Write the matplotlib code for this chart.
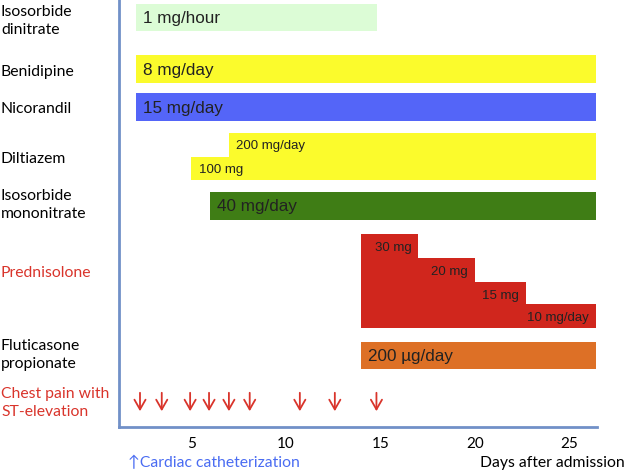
import matplotlib

matplotlib.use("Agg")
import matplotlib.pyplot as plt
from matplotlib.patches import Rectangle

# --- data (days after admission) ---
BAR_DRUGS = ["Isosorbide dinitrate", "Benidipine", "Nicorandil",
             "Isosorbide mononitrate", "Fluticasone propionate"]
BAR_START = [2.1, 2.1, 2.1, 6.0, 14.0]
BAR_END = [14.85, 26.4, 26.4, 26.4, 26.4]
BAR_DOSE = ["1 mg/hour", "8 mg/day", "15 mg/day", "40 mg/day", "200 µg/day"]

DILT_START = [5.0, 7.0]
DILT_END = [7.0, 26.4]
DILT_DOSE = ["100 mg", "200 mg/day"]

PRED_START = [14.0, 17.0, 20.0, 22.7]
PRED_END = [17.0, 20.0, 22.7, 26.4]
PRED_DOSE = ["30 mg", "20 mg", "15 mg", "10 mg/day"]

CHEST_PAIN_DAYS = [2.3, 3.45, 4.95, 5.95, 7.0, 8.1, 10.75, 12.6, 14.8]
CATH_DAY = 1.65
XTICKS = [5, 10, 15, 20, 25]

# --- layout (y in pixel-like rows, top = 0) ---
BAR_ROWS = [(4, 31), (55, 83), (93, 121), (192, 220), (342, 369)]
BAR_COLORS = ["#dcfcd6", "#fbfb2c", "#5465f8", "#3f7d15", "#dd7026"]
DILT_TOPS, DILT_BOTTOM = [157, 133], 180
PRED_TOPS, PRED_BOTTOM = [234, 258, 282, 304], 328
RED = "#d9342b"
AXIS_C = "#7190c8"
LABEL_FONT = ["Lato", "DejaVu Sans"]
BAR_FONT = ["Liberation Sans", "DejaVu Sans"]

fig = plt.figure(figsize=(6.26, 4.74), dpi=100)
ax = fig.add_axes([119 / 626, (474 - 427) / 474, (597 - 119) / 626, 427 / 474])
ax.set_xlim(1.19, 26.46)
ax.set_ylim(427, 0)

for (top, bot), s, e, c, d in zip(BAR_ROWS, BAR_START, BAR_END, BAR_COLORS, BAR_DOSE):
    ax.add_patch(Rectangle((s, top), e - s, bot - top, color=c, lw=0))
    ax.text(s + 0.35, (top + bot) / 2 + 1, d, fontsize=12.3, family=BAR_FONT,
            va="center", ha="left", color="#222222")

for s, e, top in zip(DILT_START, DILT_END, DILT_TOPS):
    ax.add_patch(Rectangle((s, top), e - s, DILT_BOTTOM - top, color="#fbfb2c", lw=0))
ax.text(DILT_START[0] + 0.4, 170, DILT_DOSE[0], fontsize=9.5, family=BAR_FONT,
        va="center", ha="left", color="#222222")
ax.text(DILT_START[1] + 0.35, 146, DILT_DOSE[1], fontsize=9.5, family=BAR_FONT,
        va="center", ha="left", color="#222222")

for s, e, top in zip(PRED_START, PRED_END, PRED_TOPS):
    ax.add_patch(Rectangle((s, top), e - s, PRED_BOTTOM - top, color="#d0261d", lw=0))
for e, top, d in zip(PRED_END, PRED_TOPS, PRED_DOSE):
    ax.text(e - 0.35, top + 14, d, fontsize=9.5, family=BAR_FONT,
            va="center", ha="right", color="#222222")

for day in CHEST_PAIN_DAYS:
    ax.annotate("", xy=(day, 414), xytext=(day, 390),
                arrowprops=dict(arrowstyle="->,head_length=0.7,head_width=0.4",
                                color=RED, lw=1.3))

# left-hand labels (figure pixel coordinates)
labels = [("Isosorbide\ndinitrate", 21, "black"), ("Benidipine", 72, "black"),
          ("Nicorandil", 109, "black"), ("Diltiazem", 159, "black"),
          ("Isosorbide\nmononitrate", 205, "black"), ("Prednisolone", 273, RED),
          ("Fluticasone\npropionate", 355, "black"),
          ("Chest pain with\nST-elevation", 403, RED)]
for txt, y, c in labels:
    fig.text(1 / 626, 1 - y / 474, txt, fontsize=11.3, family=LABEL_FONT,
             va="center", ha="left", color=c, linespacing=1.3)

for side in ("top", "right"):
    ax.spines[side].set_visible(False)
for side in ("left", "bottom"):
    ax.spines[side].set_color(AXIS_C)
    ax.spines[side].set_linewidth(2)
ax.set_yticks([])
ax.set_xticks(XTICKS)
ax.tick_params(axis="x", length=0, pad=7)
for t in ax.get_xticklabels():
    t.set_fontfamily(LABEL_FONT)
    t.set_fontsize(11)

ax.text(CATH_DAY, 463, "↑Cardiac catheterization", fontsize=11.3,
        family=LABEL_FONT, color="#4a6cf2", va="center", ha="left",
        transform=ax.transData, clip_on=False)
fig.text(480 / 626, 1 - 463 / 474, "Days after admission", fontsize=11.3,
         family=LABEL_FONT, va="center", ha="left")

fig.savefig("out.png", dpi=100)
